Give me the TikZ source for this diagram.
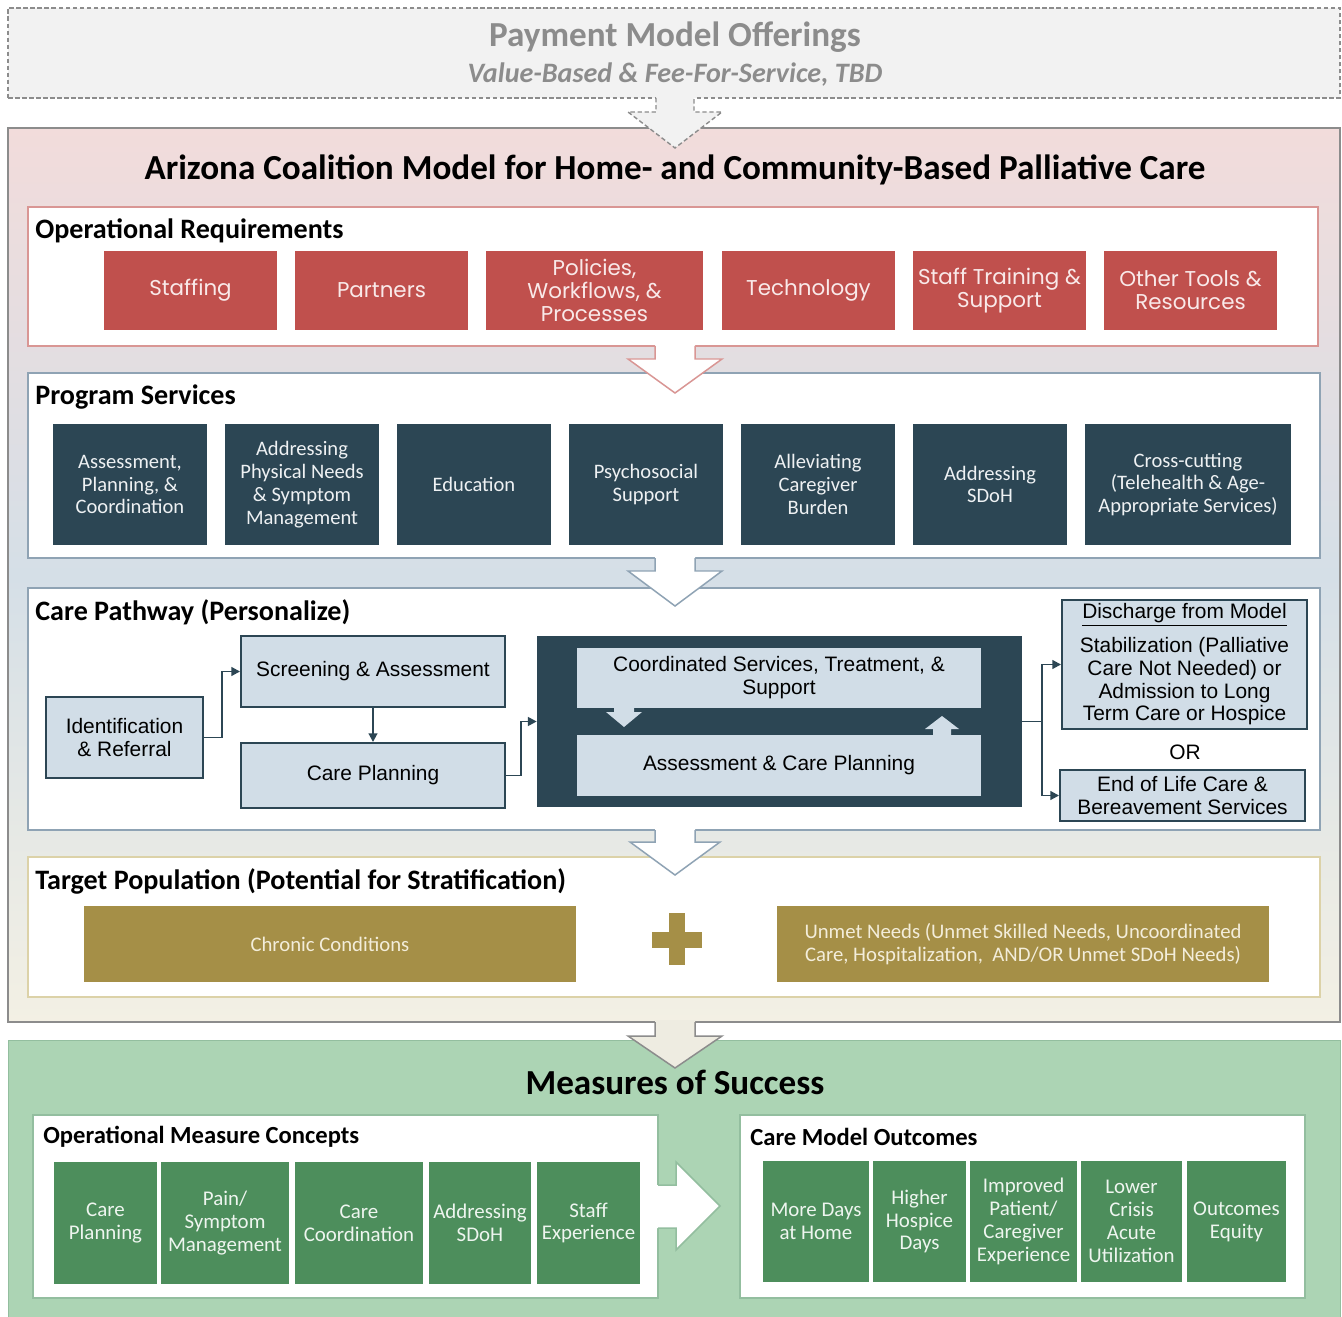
\documentclass[tikz,border=0pt]{standalone}
\usepackage{fontspec}
\setmainfont{Carlito}
\newfontfamily\montfont{Poppins}
\newfontfamily\arialfont{Liberation Sans}
\usetikzlibrary{arrows.meta}
\definecolor{paygray}{HTML}{F2F2F2}
\definecolor{paytext}{HTML}{8C8C8C}
\definecolor{frame}{HTML}{8C8C8C}
\definecolor{pinktop}{HTML}{F2DCDB}
\definecolor{bluemid}{HTML}{D5DFE7}
\definecolor{creambot}{HTML}{F3F0E4}
\definecolor{creamfill}{HTML}{EEECE1}
\definecolor{reqred}{HTML}{C0504D}
\definecolor{reqline}{HTML}{D99694}
\definecolor{reqtext}{HTML}{F9E9E9}
\definecolor{navy}{HTML}{2C4654}
\definecolor{svcline}{HTML}{8FA3B4}
\definecolor{svctext}{HTML}{EEF1F3}
\definecolor{paleblue}{HTML}{D1DDE7}
\definecolor{popgold}{HTML}{A58F47}
\definecolor{popline}{HTML}{DCD2A8}
\definecolor{poptext}{HTML}{F3EDDA}
\definecolor{msrbg}{HTML}{ACD4B4}
\definecolor{msrgreen}{HTML}{4D8E5C}
\definecolor{msrline}{HTML}{93BE9F}
\definecolor{msrtext}{HTML}{EEF5EF}
\begin{document}
\begin{tikzpicture}[x=0.02cm,y=-0.02cm,
  panel/.style={draw=#1,fill=white,line width=0.85pt,inner sep=0pt},
  heading/.style={anchor=west,inner sep=0pt,font=\fontsize{16}{18}\selectfont\bfseries},
  subheading/.style={anchor=west,inner sep=0pt,font=\fontsize{14}{16}\selectfont\bfseries},
  reqbox/.style={fill=reqred,text=reqtext,font=\montfont\fontsize{12.2}{13}\selectfont,align=center,inner sep=0pt,minimum width=3.46cm,minimum height=1.58cm},
  svcbox/.style={fill=navy,text=svctext,font=\fontsize{11.7}{13}\selectfont,align=center,inner sep=0pt,minimum width=3.08cm,minimum height=2.42cm},
  pathbox/.style={fill=paleblue,draw=navy,line width=1.1pt,font=\arialfont\fontsize{11.9}{13}\selectfont,align=center,inner sep=0pt},
  popbox/.style={fill=popgold,text=poptext,font=\fontsize{11.8}{13}\selectfont,align=center,inner sep=0pt,minimum width=9.84cm,minimum height=1.52cm},
  msrcell/.style={fill=msrgreen,draw=white,line width=0.6pt,text=msrtext,font=\fontsize{11.9}{13}\selectfont,align=center,inner sep=0pt},
  flow/.style={draw=navy,line width=1.1pt,-{Triangle[length=5pt,width=5pt]}}]
\useasboundingbox (0,0) rectangle (1342,1317);

\node[draw=frame,dash pattern=on 2.5pt off 1.5pt,fill=paygray,line width=0.8pt,minimum width=26.64cm,minimum height=1.8cm,inner sep=0pt] (paybox) at (674,53) {};
\node[font=\fontsize{20}{22}\selectfont\bfseries,text=paytext] (paytitle) at (675,37) {Payment Model Offerings};
\node[font=\fontsize{16}{18}\selectfont\bfseries\itshape,text=paytext] (paysub) at (675,75) {Value-Based \& Fee-For-Service, TBD};

\shadedraw[top color=pinktop,bottom color=creambot,middle color=bluemid,draw=frame,line width=1pt] (8,128) rectangle (1340,1022);
\node[font=\fontsize{20}{22}\selectfont\bfseries] (title) at (675,170) {Arizona Coalition Model for Home- and Community-Based Palliative Care};

\node[panel=reqline,minimum width=25.8cm,minimum height=2.78cm] (reqpanel) at (673,276.5) {};
\node[heading] (reqhead) at (35,231) {Operational Requirements};
\node[reqbox] (staffing) at (190.5,290.5) {Staffing};
\node[reqbox] (partners) at (381.5,290.5) {Partners};
\node[reqbox,minimum width=4.34cm] (policies) at (594.5,290.5) {Policies,\\Workflows, \&\\Processes};
\node[reqbox] (technology) at (808.5,290.5) {Technology};
\node[reqbox] (training) at (999.5,290.5) {Staff Training \&\\Support};
\node[reqbox] (tools) at (1190.5,290.5) {Other Tools \&\\Resources};

\node[panel=svcline,minimum width=25.84cm,minimum height=3.7cm] (svcpanel) at (674,465.5) {};
\node[heading] (svchead) at (35,397) {Program Services};
\node[svcbox] (assess) at (130,484.5) {Assessment,\\Planning, \&\\Coordination};
\node[svcbox] (physical) at (302,484.5) {Addressing\\Physical Needs\\\& Symptom\\Management};
\node[svcbox] (education) at (474,484.5) {Education};
\node[svcbox] (psycho) at (646,484.5) {Psychosocial\\Support};
\node[svcbox] (caregiver) at (818,484.5) {Alleviating\\Caregiver\\Burden};
\node[svcbox] (sdoh) at (990,484.5) {Addressing\\SDoH};
\node[svcbox,minimum width=4.12cm] (crosscut) at (1188,484.5) {Cross-cutting\\(Telehealth \& Age-\\Appropriate Services)};

\node[panel=svcline,minimum width=25.84cm,minimum height=4.84cm] (pathpanel) at (674,709) {};
\node[heading] (pathhead) at (35,612) {Care Pathway (Personalize)};
\node[pathbox,minimum width=3.14cm,minimum height=1.62cm] (identify) at (124.5,737.5) {Identification\\\& Referral};
\node[pathbox,minimum width=5.28cm,minimum height=1.42cm] (screen) at (373,671.5) {Screening \& Assessment};
\node[pathbox,minimum width=5.28cm,minimum height=1.3cm] (plan) at (373,775.5) {Care Planning};
\node[fill=navy,minimum width=9.7cm,minimum height=3.42cm,inner sep=0pt] (loop) at (779.5,721.5) {};
\node[pathbox,draw=none,minimum width=8.08cm,minimum height=1.2cm] (coord) at (779,678) {Coordinated Services, Treatment, \&\\Support};
\node[pathbox,draw=none,minimum width=8.08cm,minimum height=1.22cm] (reassess) at (779,765.5) {Assessment \& Care Planning};
\fill[paleblue] (614,706) -- (614,712) -- (606,712) -- (624,727) -- (642,712) -- (634,712) -- (634,706) -- cycle;
\fill[paleblue] (933,737) -- (933,729) -- (925,729) -- (942,716) -- (959,729) -- (951,729) -- (951,737) -- cycle;
\node[pathbox,minimum width=4.9cm,minimum height=2.58cm] (discharge) at (1184.5,664.5) {\underline{Discharge from Model}\\[5pt]Stabilization (Palliative\\Care Not Needed) or\\Admission to Long\\Term Care or Hospice};
\node[font=\arialfont\fontsize{11.9}{13}\selectfont] (orlabel) at (1185,752) {OR};
\node[pathbox,minimum width=4.9cm,minimum height=1.02cm] (endlife) at (1182.5,795.5) {End of Life Care \&\\Bereavement Services};
\draw[flow] (identify.east) -- ++(18,0) |- (screen.west);
\draw[flow] (screen.south) -- (plan.north);
\draw[flow] (plan.east) -- ++(15,0) |- (loop.west);
\draw[flow] (loop.east) -- ++(20,0) |- (discharge.west);
\draw[flow] (loop.east) -- ++(20,0) |- (endlife.west);

\node[panel=popline,minimum width=25.84cm,minimum height=2.8cm] (poppanel) at (674,927) {};
\node[heading] (pophead) at (35,881) {Target Population (Potential for Stratification)};
\node[popbox] (chronic) at (330,944) {Chronic Conditions};
\node[popbox] (unmet) at (1023,944) {Unmet Needs (Unmet Skilled Needs, Uncoordinated\\Care, Hospitalization, \ AND/OR Unmet SDoH Needs)};
\fill[popgold] (669,913) rectangle (685,965);
\fill[popgold] (652,932) rectangle (702,948);

\filldraw[fill=msrbg,draw=msrline] (8,1040) rectangle (1340,1318);
\node[font=\fontsize{20}{22}\selectfont\bfseries] (msrtitle) at (675,1082) {Measures of Success};
\node[panel=msrline,minimum width=12.5cm,minimum height=3.66cm] (oppanel) at (345.5,1206.5) {};
\node[subheading] (ophead) at (43,1137) {Operational Measure Concepts};
\node[msrcell,minimum width=2.1cm,minimum height=2.48cm] (careplan) at (105.5,1223) {Care\\Planning};
\node[msrcell,minimum width=2.6cm,minimum height=2.48cm] (pain) at (225,1223) {Pain/\\Symptom\\Management};
\node[msrcell,minimum width=2.6cm,minimum height=2.48cm] (carecoord) at (359,1223) {Care\\Coordination};
\node[msrcell,minimum width=2.08cm,minimum height=2.48cm] (opsdoh) at (480,1223) {Addressing\\SDoH};
\node[msrcell,minimum width=2.1cm,minimum height=2.48cm] (staffexp) at (588.5,1223) {Staff\\Experience};
\node[panel=msrline,minimum width=11.3cm,minimum height=3.66cm] (outpanel) at (1022.5,1206.5) {};
\node[subheading] (outhead) at (750,1137) {Care Model Outcomes};
\node[msrcell,minimum width=2.16cm,minimum height=2.46cm] (home) at (816,1221.5) {More Days\\at Home};
\node[msrcell,minimum width=1.9cm,minimum height=2.46cm] (hospice) at (919.5,1221.5) {Higher\\Hospice\\Days};
\node[msrcell,minimum width=2.18cm,minimum height=2.46cm] (patient) at (1023.5,1221.5) {Improved\\Patient/\\Caregiver\\Experience};
\node[msrcell,minimum width=2.06cm,minimum height=2.46cm] (crisis) at (1131.5,1221.5) {Lower\\Crisis\\Acute\\Utilization};
\node[msrcell,minimum width=2.02cm,minimum height=2.46cm] (equity) at (1236.5,1221.5) {Outcomes\\Equity};

\fill[paygray] (656,96) -- (656,112) -- (628,112) -- (675,148) -- (722,112) -- (694,112) -- (694,96) -- cycle;
\draw[frame,dash pattern=on 2.5pt off 1.5pt,line width=0.8pt] (656,98) -- (656,112) -- (628,112) -- (675,148) -- (722,112) -- (694,112) -- (694,98);
\fill[white] (655,344) -- (655,359) -- (628,359) -- (675,393) -- (722,359) -- (695,359) -- (695,344) -- cycle;
\draw[reqline,line width=0.85pt] (655,346) -- (655,359) -- (628,359) -- (675,393) -- (722,359) -- (695,359) -- (695,346);
\fill[white] (655,556) -- (655,571) -- (628,571) -- (675,606) -- (722,571) -- (695,571) -- (695,556) -- cycle;
\draw[svcline,line width=0.85pt] (655,558) -- (655,571) -- (628,571) -- (675,606) -- (722,571) -- (695,571) -- (695,558);
\fill[white] (655,828) -- (655,842) -- (630,842) -- (675,875) -- (720,842) -- (695,842) -- (695,828) -- cycle;
\draw[svcline,line width=0.85pt] (655,830) -- (655,842) -- (630,842) -- (675,875) -- (720,842) -- (695,842) -- (695,830);
\fill[creamfill] (655,1020) -- (655,1036) -- (628,1036) -- (675,1068) -- (722,1036) -- (695,1036) -- (695,1020) -- cycle;
\draw[frame,line width=0.85pt] (655,1022) -- (655,1036) -- (628,1036) -- (675,1068) -- (722,1036) -- (695,1036) -- (695,1022);
\fill[white] (656,1185) -- (676,1185) -- (676,1162) -- (720,1206) -- (676,1250) -- (676,1228) -- (656,1228) -- cycle;
\draw[msrline,line width=0.85pt] (658,1185) -- (676,1185) -- (676,1162) -- (720,1206) -- (676,1250) -- (676,1228) -- (658,1228);
\end{tikzpicture}
\end{document}
